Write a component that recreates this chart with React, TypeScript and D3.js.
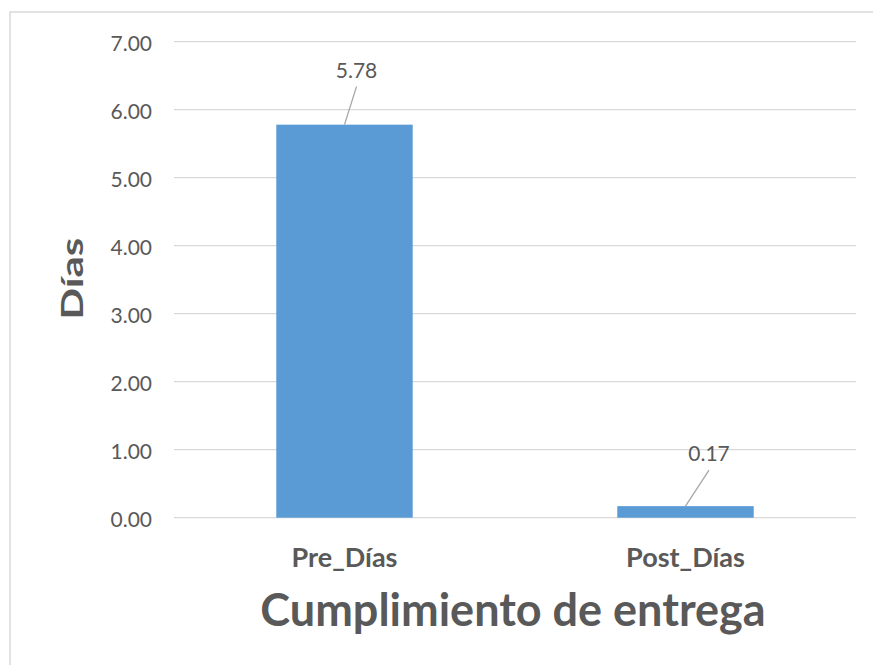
import React from 'react';
import * as d3 from 'd3';

const categories = ['Pre_Días', 'Post_Días'];
const values = [5.78, 0.17];
const yTicks = [0, 1, 2, 3, 4, 5, 6, 7];
const xTitle = 'Cumplimiento de entrega';
const yTitle = 'Días';

const WIDTH = 873;
const HEIGHT = 665;
const PLOT = { left: 174, right: 856, top: 41.7, bottom: 517.7 };
const TEXT = '#595959';
const FONT = 'Lato, "Open Sans", sans-serif';
// label offsets from the top-centre of each bar (Excel leader lines)
const LABEL_DX = [12, 23.5];
const LABEL_DY = [-47, -45];

const App: React.FC = () => {
    const x = d3.scaleBand<string>()
        .domain(categories)
        .range([PLOT.left, PLOT.right])
        .paddingInner(0.6)
        .paddingOuter(0.3);

    const y = d3.scaleLinear()
        .domain([0, 7])
        .range([PLOT.bottom, PLOT.top]);

    const midY = (PLOT.top + PLOT.bottom) / 2;

    return (
        <svg width={WIDTH} height={HEIGHT} style={{ position: 'absolute', left: 0, top: 0, background: '#fff' }}>
            <rect x={10} y={12} width={900} height={700} fill="#fff" stroke="#d9d9d9" strokeWidth={1.5} />

            {yTicks.map(t => (
                <g key={t}>
                    <line x1={PLOT.left} x2={PLOT.right} y1={y(t)} y2={y(t)} stroke="#d9d9d9" strokeWidth={1.3} />
                    <text x={152} y={y(t) + 9} textAnchor="end" fontFamily={FONT} fontSize={21} fill={TEXT}>
                        {t.toFixed(2)}
                    </text>
                </g>
            ))}

            {categories.map((c, i) => {
                const bx = x(c)!;
                const cx = bx + x.bandwidth() / 2;
                const top = y(values[i]);
                const lx = cx + LABEL_DX[i];
                const ly = top + LABEL_DY[i];
                return (
                    <g key={c}>
                        <rect x={bx} y={top} width={x.bandwidth()} height={y(0) - top} fill="#5b9bd5" />
                        <line x1={lx} y1={ly + 9} x2={cx} y2={top} stroke="#a6a6a6" strokeWidth={1.3} />
                        <text x={lx} y={ly} textAnchor="middle" fontFamily={FONT} fontSize={21} fill={TEXT}>
                            {values[i].toFixed(2)}
                        </text>
                        <text x={cx} y={567} textAnchor="middle" fontFamily={FONT} fontSize={27} fontWeight="bold" fill={TEXT}>
                            {c}
                        </text>
                    </g>
                );
            })}

            <text x={513} y={626} textAnchor="middle" fontFamily={FONT} fontSize={45} fontWeight="bold" fill={TEXT}>
                {xTitle}
            </text>

            <text
                transform={`translate(83,${midY - 1}) rotate(-90) scale(1.4,1)`}
                textAnchor="middle"
                fontFamily={FONT}
                fontSize={30}
                fontWeight="bold"
                fill={TEXT}
            >
                {yTitle}
            </text>
        </svg>
    );
};

export default App;
